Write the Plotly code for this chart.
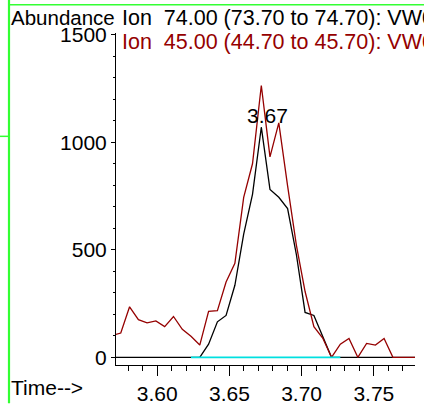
import plotly.graph_objects as go

# ---------------- data ----------------
times = [3.5687, 3.5748, 3.5809, 3.5870, 3.5930, 3.5991, 3.6052, 3.6113, 3.6174,
         3.6234, 3.6295, 3.6356, 3.6417, 3.6477, 3.6538, 3.6599, 3.6660, 3.6721,
         3.6781, 3.6842, 3.6903, 3.6964, 3.7024, 3.7085, 3.7146, 3.7207, 3.7268,
         3.7328, 3.7389, 3.7450, 3.7511, 3.7571, 3.7632, 3.7693, 3.7754, 3.7815]

ion74 = [0, 0, 0, 0, 0, 0, 0, 0, 0,
         0, 0, 61, 165, 195, 335, 573, 758, 1070,
         781, 744, 692, 477, 209, 195, 98, 0, 0,
         0, 0, 0, 0, 0, 0, 0, 0, 0]

ion45 = [102, 113, 235, 175, 160, 169, 143, 190, 130,
         98, 57, 214, 217, 350, 437, 744, 900, 1264,
         932, 1090, 797, 521, 306, 143, 90, 0, 61,
         88, 0, 65, 57, 88, 0, 0, 0, 0]

baseline_times = [3.6234, 3.7268]
baseline_values = [0, 0]

peak_label = "3.67"

x_tick_vals = [3.60, 3.65, 3.70, 3.75]
x_tick_text = ["3.60", "3.65", "3.70", "3.75"]
y_tick_vals = [0, 500, 1000, 1500]
y_tick_text = ["0", "500", "1000", "1500"]

legend_74 = "Ion\u00a0\u00a074.00 (73.70 to 74.70): VW0001.D\\data.ms"
legend_45 = "Ion\u00a0\u00a045.00 (44.70 to 45.70): VW0001.D\\data.ms"
y_title = "Abundance"
x_title = "Time-->"

# ---------------- styling ----------------
BLACK = "#000000"
RED = "#950000"
CYAN = "#00e0e0"
GREEN = "#33ff33"
FONT = "Liberation Sans, Arial, sans-serif"
FS = 21
FS_LEG = 21.5
FS_TITLE = 20.5

W, H = 424, 414
L, R, T, B = 116, 415, 33, 380


def px_x(x):
    return (x - L) / (R - L)


def px_y(y):
    return (B - y) / (B - T)


fig = go.Figure()
fig.add_trace(go.Scatter(x=times, y=ion74, mode="lines",
                         line=dict(color=BLACK, width=1.3), hoverinfo="skip"))
fig.add_trace(go.Scatter(x=times, y=ion45, mode="lines",
                         line=dict(color=RED, width=1.3), hoverinfo="skip"))
fig.add_trace(go.Scatter(x=baseline_times, y=baseline_values, mode="lines",
                         line=dict(color=CYAN, width=1.6), hoverinfo="skip"))

imax = max(range(len(ion74)), key=lambda i: ion74[i])
fig.add_annotation(x=times[imax], y=ion74[imax], xref="x", yref="y",
                   text=peak_label, showarrow=False, xanchor="center",
                   yanchor="bottom", xshift=6, yshift=-2,
                   font=dict(family=FONT, size=FS, color=BLACK))

fig.add_annotation(x=px_x(9), y=px_y(17), xref="paper", yref="paper",
                   text=y_title, showarrow=False, xanchor="left",
                   yanchor="middle",
                   font=dict(family=FONT, size=FS_TITLE, color=BLACK))
fig.add_annotation(x=px_x(8.5), y=px_y(404), xref="paper", yref="paper",
                   text=x_title, showarrow=False, xanchor="left",
                   yanchor="middle",
                   font=dict(family=FONT, size=FS, color=BLACK))
fig.add_annotation(x=px_x(120), y=px_y(17), xref="paper", yref="paper",
                   text=legend_74, showarrow=False, xanchor="left",
                   yanchor="middle",
                   font=dict(family=FONT, size=FS_LEG, color=BLACK))
fig.add_annotation(x=px_x(120), y=px_y(42), xref="paper", yref="paper",
                   text=legend_45, showarrow=False, xanchor="left",
                   yanchor="middle",
                   font=dict(family=FONT, size=FS_LEG, color=RED))

# green frame pieces
fig.add_shape(type="line", xref="paper", yref="paper",
              x0=px_x(9), x1=px_x(9), y0=px_y(-5), y1=px_y(420),
              line=dict(color=GREEN, width=2.2), layer="above")
fig.add_shape(type="line", xref="paper", yref="paper",
              x0=px_x(9), x1=px_x(430), y0=px_y(3.5), y1=px_y(3.5),
              line=dict(color=GREEN, width=1.5), layer="above")
fig.add_shape(type="line", xref="paper", yref="paper",
              x0=px_x(-2), x1=px_x(9), y0=px_y(141), y1=px_y(141),
              line=dict(color=GREEN, width=1.5), layer="above")

fig.update_layout(
    width=W, height=H, autosize=False,
    margin=dict(l=L, r=W - R, t=T, b=H - B, pad=0),
    plot_bgcolor="white", paper_bgcolor="white",
    showlegend=False,
    font=dict(family=FONT, size=FS, color=BLACK),
)
fig.update_xaxes(
    range=[3.5715, 3.7785], tickmode="array",
    tickvals=x_tick_vals, ticktext=x_tick_text,
    ticks="outside", ticklen=10, tickwidth=1, tickcolor=BLACK,
    showline=True, linecolor=BLACK, linewidth=1,
    showgrid=False, zeroline=False,
    minor=dict(dtick=0.01, tick0=3.6, ticks="outside", ticklen=5,
               tickwidth=1, tickcolor=BLACK, showgrid=False),
    tickfont=dict(family=FONT, size=FS, color=BLACK),
)
fig.update_yaxes(
    range=[-35.6, 1508], tickmode="array",
    tickvals=y_tick_vals, ticktext=y_tick_text,
    ticks="outside", ticklen=4, tickwidth=1, tickcolor=BLACK,
    showline=True, linecolor=BLACK, linewidth=1,
    showgrid=False, zeroline=False,
    minor=dict(dtick=100, tick0=0, ticks="outside", ticklen=2,
               tickwidth=1, tickcolor=BLACK, showgrid=False),
    tickfont=dict(family=FONT, size=FS, color=BLACK),
)

fig.write_html(
    "out.html",
    config={"displayModeBar": False},
    post_script="document.body.style.margin='0px';document.body.style.overflow='hidden';",
)
